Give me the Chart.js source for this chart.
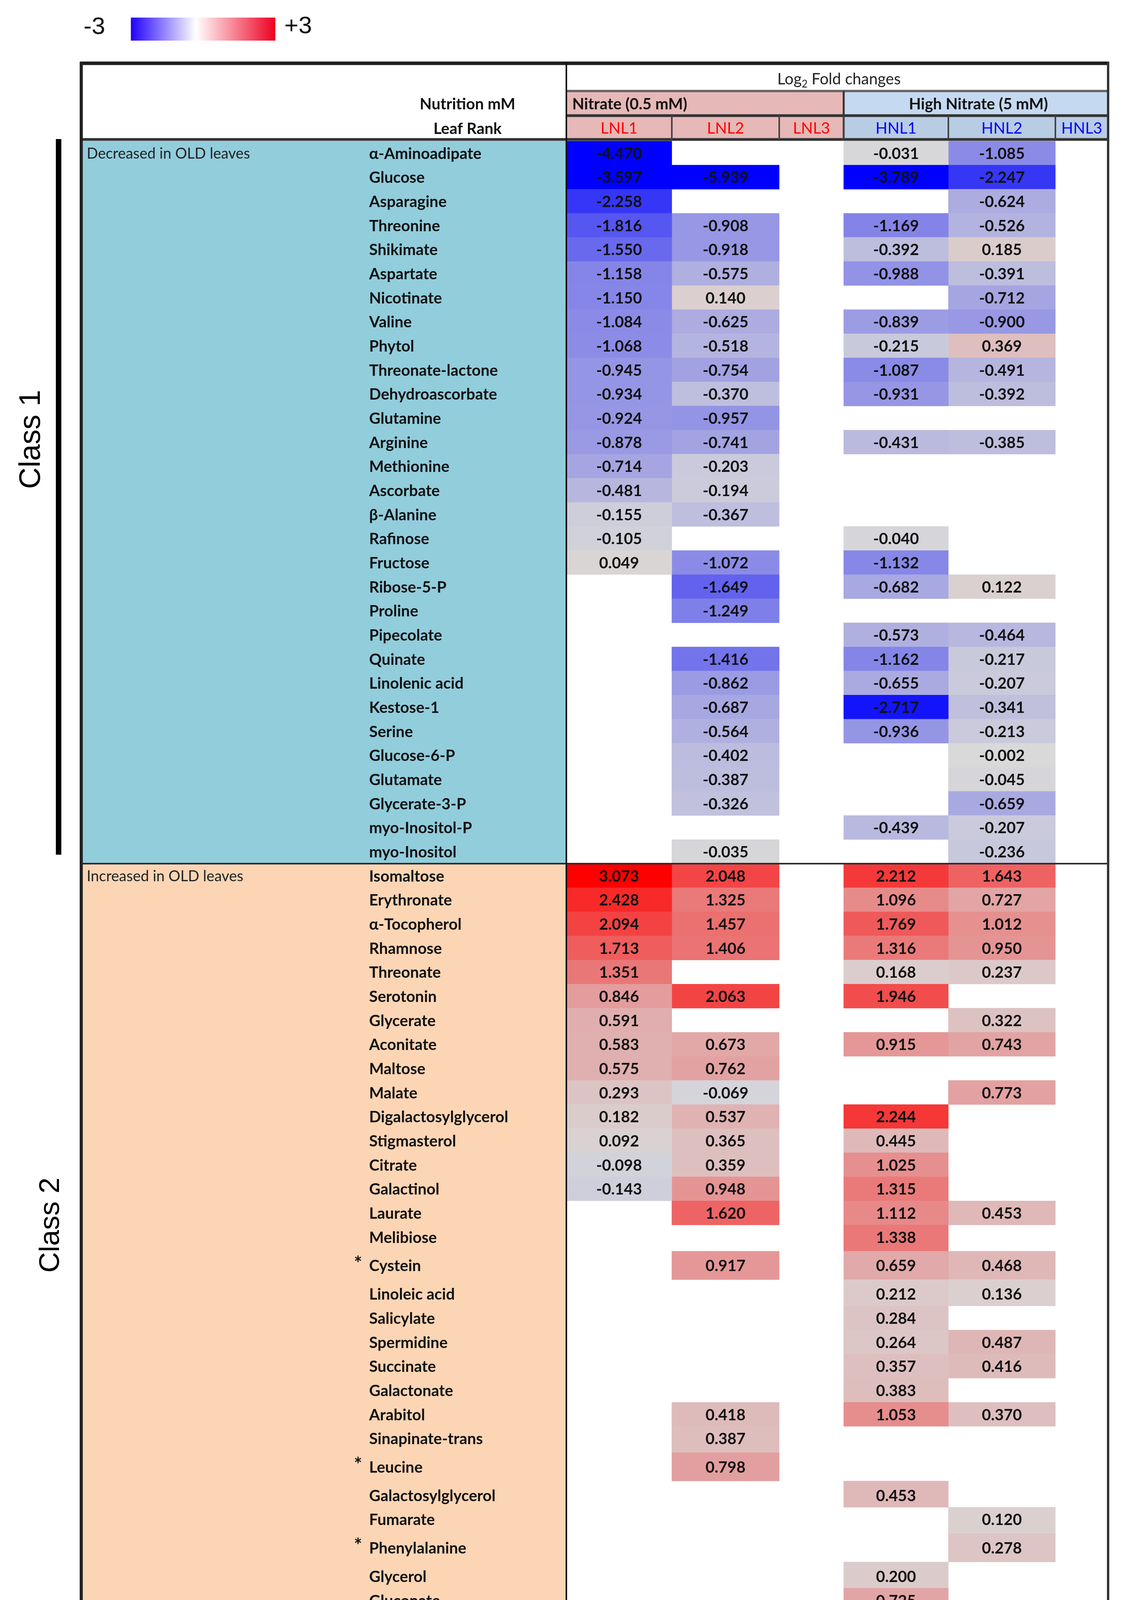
<!DOCTYPE html>
<html>
<head>
<meta charset="utf-8">
<script src="https://cdn.jsdelivr.net/npm/chart.js@4.4.1/dist/chart.umd.min.js"></script>
<style>
html, body { margin: 0; padding: 0; background: #fff; }
#wrap { width: 2870px; height: 4888px; position: relative; }
</style>
</head>
<body>
<div id="wrap"><canvas id="heat"></canvas></div>
<script>
// rows, top to bottom
var metabolites = [
  'α-Aminoadipate', 'Glucose', 'Asparagine', 'Threonine', 'Shikimate', 'Aspartate', 'Nicotinate', 'Valine',
  'Phytol', 'Threonate-lactone', 'Dehydroascorbate', 'Glutamine', 'Arginine', 'Methionine', 'Ascorbate',
  'β-Alanine', 'Rafinose', 'Fructose', 'Ribose-5-P', 'Proline', 'Pipecolate', 'Quinate', 'Linolenic acid',
  'Kestose-1', 'Serine', 'Glucose-6-P', 'Glutamate', 'Glycerate-3-P', 'myo-Inositol-P', 'myo-Inositol',
  'Isomaltose', 'Erythronate', 'α-Tocopherol', 'Rhamnose', 'Threonate', 'Serotonin', 'Glycerate', 'Aconitate',
  'Maltose', 'Malate', 'Digalactosylglycerol', 'Stigmasterol', 'Citrate', 'Galactinol', 'Laurate', 'Melibiose',
  'Cystein', 'Linoleic acid', 'Salicylate', 'Spermidine', 'Succinate', 'Galactonate', 'Arabitol',
  'Sinapinate-trans', 'Leucine', 'Galactosylglycerol', 'Fumarate', 'Phenylalanine', 'Glycerol', 'Gluconate',
  'Melezitose', 'Histidine', 'Tyrosine',
  'Putrescine', 'Phosphate', 'Sucrose-6-P',
  'Tryptophan', 'Malonate', 'Maleate', 'Lysine', 'Monopalmitine'
];
var starred = ['Cystein', 'Leucine', 'Phenylalanine', 'Histidine', 'Tryptophan', 'Lysine'];

var columns = ['LNL1', 'LNL2', 'LNL3', 'HNL1', 'HNL2', 'HNL3'];
var nutrition = ['Nitrate (0.5 mM)', 'High Nitrate (5 mM)'];

var classNames = ['Class 1', 'Class 2', 'Class 3', 'Class 4'];
var classSizes = [30, 33, 3, 5];
var classNotes = [
  ['Decreased in OLD leaves'],
  ['Increased in OLD leaves'],
  ['OPPOSITE', 'Increased in OLD leaves at LN', 'Decreased in OLD leaves at HN'],
  ['OPPOSITE', 'Increased in OLD leaves at HN', 'Decreased in OLD leaves at LN']
];

// log2 fold changes, one entry per row (null = empty cell)
var lnl1 = [
  -4.470, -3.597, -2.258, -1.816, -1.550, -1.158, -1.150, -1.084, -1.068, -0.945, -0.934, -0.924, -0.878, -0.714, -0.481,
  -0.155, -0.105, 0.049, null, null, null, null, null, null, null, null, null, null, null, null,
  3.073, 2.428, 2.094, 1.713, 1.351, 0.846, 0.591, 0.583, 0.575, 0.293, 0.182, 0.092, -0.098, -0.143,
  null, null, null, null, null, null, null, null, null, null, null, null, null, null, null, null, null, null, null,
  0.523, 0.262, null,
  null, null, -0.284, -0.057, -0.089
];
var lnl2 = [
  null, -5.939, null, -0.908, -0.918, -0.575, 0.140, -0.625, -0.518, -0.754, -0.370, -0.957, -0.741, -0.203, -0.194,
  -0.367, null, -1.072, -1.649, -1.249, null, -1.416, -0.862, -0.687, -0.564, -0.402, -0.387, -0.326, null, -0.035,
  2.048, 1.325, 1.457, 1.406, null, 2.063, null, 0.673, 0.762, -0.069, 0.537, 0.365, 0.359, 0.948, 1.620, null,
  0.917, null, null, null, null, null, 0.418, 0.387, 0.798, null, null, null, null, null, null, null, null,
  -1.173, 0.705, null,
  -1.726, -0.467, -0.693, -0.192, -0.174
];
var hnl1 = [
  -0.031, -3.789, null, -1.169, -0.392, -0.988, null, -0.839, -0.215, -1.087, -0.931, null, -0.431, null, null,
  null, -0.040, -1.132, -0.682, null, -0.573, -1.162, -0.655, -2.717, -0.936, null, null, null, -0.439, null,
  2.212, 1.096, 1.769, 1.316, 0.168, 1.946, null, 0.915, null, null, 2.244, 0.445, 1.025, 1.315, 1.112, 1.338,
  0.659, 0.212, 0.284, 0.264, 0.357, 0.383, 1.053, null, null, 0.453, null, null, 0.200, 0.725, 0.785, 0.556, 0.240,
  -1.119, -1.108, -0.513,
  null, null, 2.369, null, null
];
var hnl2 = [
  -1.085, -2.247, -0.624, -0.526, 0.185, -0.391, -0.712, -0.900, 0.369, -0.491, -0.392, null, -0.385, null, null,
  null, null, null, 0.122, null, -0.464, -0.217, -0.207, -0.341, -0.213, -0.002, -0.045, -0.659, -0.207, -0.236,
  1.643, 0.727, 1.012, 0.950, 0.237, null, 0.322, 0.743, null, 0.773, null, null, null, null, 0.453, null,
  0.468, 0.136, null, 0.487, 0.416, null, 0.370, null, null, null, 0.120, 0.278, null, null, 0.349, 0.025, 0.316,
  null, null, null,
  0.852, 0.405, null, 0.620, 0.720
];
var lnl3 = metabolites.map(function () { return null; });
var hnl3 = metabolites.map(function () { return null; });
var series = [lnl1, lnl2, lnl3, hnl1, hnl2, hnl3];

// layout
var colWidths = [270, 275, 165, 268, 274, 135];
var tallRows = ['Cystein', 'Leucine', 'Phenylalanine', 'Histidine'];
var tallWeight = 1.36;
var classFill = ['#92cddc', '#fcd5b4', '#b1a0c7', '#c4d79b'];
var classLabelX = [81, 131, 96, 129];
var classLabelShift = [-2.6, -2.2, 0.2, 0.75];
var classLabelSize = [76, 73, 58, 60];
var FONT = 'Lato, "Open Sans", sans-serif';

var colEdges = [0];
colWidths.forEach(function (w) { colEdges.push(colEdges[colEdges.length - 1] + w); });
var rowTop = [], rowMid = [], acc = 0;
metabolites.forEach(function (m) {
  var w = tallRows.indexOf(m) >= 0 ? tallWeight : 1;
  rowTop.push(acc); rowMid.push(acc + w / 2); acc += w;
});
var totalRows = acc;
rowTop.push(totalRows);
var groupStart = [], k = 0;
classSizes.forEach(function (n) { groupStart.push(k); k += n; });

function cellColour(v) {
  if (v == null) return 'rgba(0,0,0,0)';
  var t = Math.min(Math.abs(v) / 3, 1), g = 217;
  var lo = Math.round(g * (1 - t)), hi = Math.round(g + (255 - g) * t);
  return v < 0 ? 'rgb(' + lo + ',' + lo + ',' + hi + ')' : 'rgb(' + hi + ',' + lo + ',' + lo + ')';
}

var tablePlugin = {
  id: 'tableDecor',
  beforeDatasetsDraw: function (chart) {
    var c = chart.ctx, y = chart.scales.y, x = chart.scales.x;
    c.save();
    // class backgrounds on the label side
    classSizes.forEach(function (n, g) {
      var t = y.getPixelForValue(rowTop[groupStart[g]]);
      var b = y.getPixelForValue(rowTop[groupStart[g] + n]);
      c.fillStyle = classFill[g];
      c.fillRect(208, t, 1450 - 208, b - t);
    });
    // header fills
    var splitX = x.getPixelForValue(colEdges[3]);
    c.fillStyle = '#e6b8b7';
    c.fillRect(1450, 236, splitX - 1450, 60);
    c.fillStyle = '#c5d9f1';
    c.fillRect(splitX, 236, x.getPixelForValue(colEdges[6]) - splitX, 60);
    columns.forEach(function (col, i) {
      c.fillStyle = i < 3 ? '#e6b8b7' : '#b8cce4';
      var a = x.getPixelForValue(colEdges[i]), b = x.getPixelForValue(colEdges[i + 1]);
      c.fillRect(a, 297, b - a, 60);
    });
    // colour key
    var grad = c.createLinearGradient(335, 0, 705, 0);
    grad.addColorStop(0, '#2200ff');
    grad.addColorStop(0.45, '#ffffff');
    grad.addColorStop(1, '#ee0022');
    c.fillStyle = grad;
    c.fillRect(335, 45, 370, 59);
    c.fillStyle = '#111';
    c.font = '62px "Liberation Sans", Arial, sans-serif';
    c.textBaseline = 'middle';
    c.textAlign = 'left';
    c.fillText('-3', 214, 70);
    c.fillText('+3', 728, 68);
    c.restore();
  },
  afterDatasetsDraw: function (chart) {
    var c = chart.ctx, y = chart.scales.y, x = chart.scales.x;
    var right = x.getPixelForValue(colEdges[6]);
    c.save();
    c.textBaseline = 'middle';

    // cell values
    c.font = 'bold 40px ' + FONT;
    c.textAlign = 'center';
    c.fillStyle = '#111';
    series.forEach(function (vals, ci) {
      var meta = chart.getDatasetMeta(ci);
      meta.data.forEach(function (el, i) {
        if (vals[i] == null) return;
        var p = el.getCenterPoint();
        c.fillText(vals[i].toFixed(3), p.x, y.getPixelForValue(rowMid[i]) + 2);
      });
    });

    // metabolite names
    c.textAlign = 'left';
    metabolites.forEach(function (m, i) {
      var py = y.getPixelForValue(rowMid[i]) + 2;
      c.font = 'bold 40px ' + FONT;
      c.fillText(m, 945, py);
      if (starred.indexOf(m) >= 0) { c.font = 'bold 50px ' + FONT; c.fillText('*', 906, py - 6); }
    });

    // class notes
    c.font = '38px ' + FONT;
    c.fillStyle = '#222';
    classNotes.forEach(function (lines, g) {
      lines.forEach(function (s, j) {
        c.fillText(s, 222, y.getPixelForValue(rowMid[groupStart[g] + j]) + 2);
      });
    });

    // rules
    function hline(x0, x1, yy, h, col) { c.fillStyle = col; c.fillRect(x0, yy - h / 2, x1 - x0, h); }
    function vline(xx, y0, y1, w, col) { c.fillStyle = col; c.fillRect(xx - w / 2, y0, w, y1 - y0); }
    var bottom = y.getPixelForValue(totalRows);
    for (var g = 1; g < classSizes.length; g++) {
      hline(206, right + 3, y.getPixelForValue(rowTop[groupStart[g]]), g === 1 ? 4 : 7, '#2a2a2a');
    }
    hline(206, right + 3, 162, 9, '#1e1e1e');
    hline(1450, right, 233, 6, '#666');
    hline(1450, right, 296, 7, '#333');
    hline(206, right + 3, 357, 7, '#333');
    hline(204, right + 4, bottom + 5, 10, '#1e1e1e');
    vline(1450, 160, bottom + 4, 4, '#111');
    vline(208, 158, bottom + 9, 8, '#222');
    vline(right, 158, bottom + 9, 6, '#333');
    vline(x.getPixelForValue(colEdges[3]), 233, 357, 5, '#333');
    for (var e = 1; e < 6; e++) vline(x.getPixelForValue(colEdges[e]), 296, 357, 4, '#444');

    // header texts
    c.fillStyle = '#222';
    c.font = '40px ' + FONT;
    var w1 = c.measureText('Log').width, w3 = c.measureText(' Fold changes').width;
    c.font = '26px ' + FONT;
    var w2 = c.measureText('2').width;
    var lx = 2148 - (w1 + w2 + w3) / 2;
    c.font = '40px ' + FONT;
    c.textAlign = 'left';
    c.fillText('Log', lx, 203);
    c.fillText(' Fold changes', lx + w1 + w2, 203);
    c.font = '26px ' + FONT;
    c.fillText('2', lx + w1, 216);

    c.font = 'bold 40px ' + FONT;
    c.fillStyle = '#111';
    c.textAlign = 'center';
    c.fillText('Nutrition mM', 1197, 267);
    c.fillText('Leaf Rank', 1197, 330);
    c.textAlign = 'left';
    c.fillText(nutrition[0], 1465, 267);
    c.textAlign = 'center';
    c.fillText(nutrition[1], 2505, 267);
    c.font = '40px ' + FONT;
    columns.forEach(function (col, i) {
      c.fillStyle = i < 3 ? '#ff0000' : '#0000ff';
      var a = x.getPixelForValue(colEdges[i]), b = x.getPixelForValue(colEdges[i + 1]);
      c.fillText(col, (a + b) / 2, 329);
    });

    // class labels and brackets
    c.fillStyle = '#000';
    classNames.forEach(function (name, g) {
      var t = y.getPixelForValue(rowTop[groupStart[g]]);
      var b = y.getPixelForValue(rowTop[groupStart[g] + classSizes[g]]);
      var mid = (t + b) / 2 + classLabelShift[g] * 62;
      c.save();
      c.translate(classLabelX[g], mid);
      c.rotate(-Math.PI / 2);
      c.font = classLabelSize[g] + 'px "Liberation Sans", Arial, sans-serif';
      c.textAlign = 'center';
      c.textBaseline = 'middle';
      c.fillText(name, 0, 0);
      c.restore();
    });
    var t1 = y.getPixelForValue(rowTop[groupStart[0]]);
    var b1 = y.getPixelForValue(rowTop[groupStart[0] + classSizes[0]]);
    c.fillRect(143, t1 - 5, 14, b1 - t1 - 18);
    var t3 = y.getPixelForValue(rowTop[groupStart[2]]);
    var b3 = y.getPixelForValue(rowTop[groupStart[2] + classSizes[2]]);
    c.fillRect(147, t3 + 3, 9, b3 - t3 + 30);
    c.restore();
  }
};

var chart = new Chart(document.getElementById('heat'), {
  type: 'bar',
  data: {
    datasets: columns.map(function (col, ci) {
      return {
        label: col,
        stack: 'cells',
        data: metabolites.map(function (m, i) {
          var v = series[ci][i];
          return { y: rowMid[i], x: v == null ? null : [colEdges[ci], colEdges[ci + 1]], v: v };
        }),
        backgroundColor: function (ctx) { return cellColour(ctx.raw ? ctx.raw.v : null); },
        borderWidth: 0,
        barThickness: 'flex',
        categoryPercentage: 1,
        barPercentage: 1
      };
    })
  },
  options: {
    indexAxis: 'y',
    responsive: true,
    maintainAspectRatio: false,
    devicePixelRatio: 1,
    animation: false,
    events: [],
    layout: { padding: { left: 1450, right: 33, top: 361, bottom: 60 } },
    plugins: { legend: { display: false }, tooltip: { enabled: false } },
    scales: {
      x: { type: 'linear', min: 0, max: colEdges[6], stacked: false, offset: false, display: false },
      y: { type: 'linear', min: 0, max: totalRows, reverse: true, offset: false, grid: { offset: false }, display: false }
    }
  },
  plugins: [tablePlugin]
});
</script>
</body>
</html>
